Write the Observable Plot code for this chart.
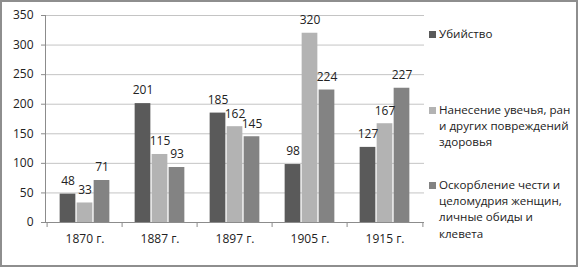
<!DOCTYPE html>
<html>
<head>
<meta charset="utf-8">
<script src="https://cdn.jsdelivr.net/npm/d3@7"></script>
<script src="https://cdn.jsdelivr.net/npm/@observablehq/plot@0.6"></script>
<style>
  body { margin: 0; background: #fff; }
  #wrap { position: relative; width: 579px; height: 268px; overflow: hidden; font-family: "Open Sans", sans-serif; }
  #border { position: absolute; left: 0; top: 0; width: 578px; height: 267px; box-sizing: border-box; border: 2px solid #8e8e8e; pointer-events: none; }
  #legend { position: absolute; left: 0; top: 0; font-size: 11.6px; color: #222; }
  .item { position: absolute; white-space: nowrap; line-height: 16.3px; }
  .sw { position: absolute; width: 7px; height: 7px; }
  svg { position: absolute; left: 0; top: 0; }
</style>
</head>
<body>
<div id="wrap"><div id="chart"></div><div id="legend"></div><div id="border"></div></div>
<script>
const years = ["1870 г.", "1887 г.", "1897 г.", "1905 г.", "1915 г."];
const murder = [48, 201, 185, 98, 127];
const injury = [33, 115, 162, 320, 167];
const insult = [71, 93, 145, 224, 227];
const seriesNames = [
  "Убийство",
  "Нанесение увечья, ран и других повреждений здоровья",
  "Оскорбление чести и целомудрия женщин, личные обиды и клевета"
];
const legendLines = [
  ["Убийство"],
  ["Нанесение увечья, ран", "и других повреждений", "здоровья"],
  ["Оскорбление чести и", "целомудрия женщин,", "личные обиды и", "клевета"]
];
const colors = ["#5a5a5a", "#b3b3b3", "#838383"];
const yTicks = [0, 50, 100, 150, 200, 250, 300, 350];

const W = 579, H = 268, mL = 45, mR = 155, mT = 15, mB = 46;
const bw = (W - mL - mR) / years.length;
const barW = 16.5, gap = 17;
const inset = (bw - barW) / 2;

const series = [murder, injury, insult];

const marks = [
  Plot.gridY(yTicks, {stroke: "#c4c4c4", strokeOpacity: 1}),
  Plot.axisY({ticks: yTicks, tickSize: 4, tickPadding: 8, label: null, stroke: "#8c8c8c", fontSize: 12, fill: "#222"}),
  Plot.axisX({tickSize: 0, tickPadding: 12, label: null, fontSize: 12, fill: "#222"}),
  Plot.axisX({tickSize: 5, text: null, dx: -bw / 2, stroke: "#8c8c8c", label: null}),
  Plot.axisX({ticks: [years[years.length - 1]], tickSize: 5, text: null, dx: bw / 2, stroke: "#8c8c8c", label: null}),
];
series.forEach((s, k) => {
  const data = years.map((y, i) => ({year: y, value: s[i]}));
  const dx = (k - 1) * gap;
  marks.push(Plot.barY(data, {x: "year", y: "value", fill: colors[k], insetLeft: inset, insetRight: inset, dx}));
});
marks.push(Plot.ruleY([0], {stroke: "#8c8c8c"}));
marks.push(Plot.frame({anchor: "left", stroke: "#8c8c8c"}));
series.forEach((s, k) => {
  const data = years.map((y, i) => ({year: y, value: s[i]}));
  const dx = (k - 1) * gap;
  marks.push(Plot.text(data, {x: "year", y: "value", text: d => String(d.value), dx, dy: -13, fontSize: 12, fill: "#222", textAnchor: "middle"}));
});

const chart = Plot.plot({
  width: W, height: H,
  marginLeft: mL, marginRight: mR, marginTop: mT, marginBottom: mB,
  style: {fontFamily: "'Open Sans', sans-serif", background: "transparent"},
  x: {type: "band", domain: years, padding: 0, axis: null},
  y: {domain: [0, 350], axis: null},
  marks
});
document.getElementById("chart").appendChild(chart);

const legend = document.getElementById("legend");
const firstLineCenters = [34, 110, 185];
legendLines.forEach((lines, k) => {
  const sw = document.createElement("div");
  sw.className = "sw";
  sw.style.background = colors[k];
  sw.style.left = "429px";
  sw.style.top = (firstLineCenters[k] - 3.5) + "px";
  legend.appendChild(sw);
  const it = document.createElement("div");
  it.className = "item";
  it.title = seriesNames[k];
  it.style.left = "439px";
  it.style.top = (firstLineCenters[k] - 8.15) + "px";
  it.innerHTML = lines.join("<br>");
  legend.appendChild(it);
});
</script>
</body>
</html>
